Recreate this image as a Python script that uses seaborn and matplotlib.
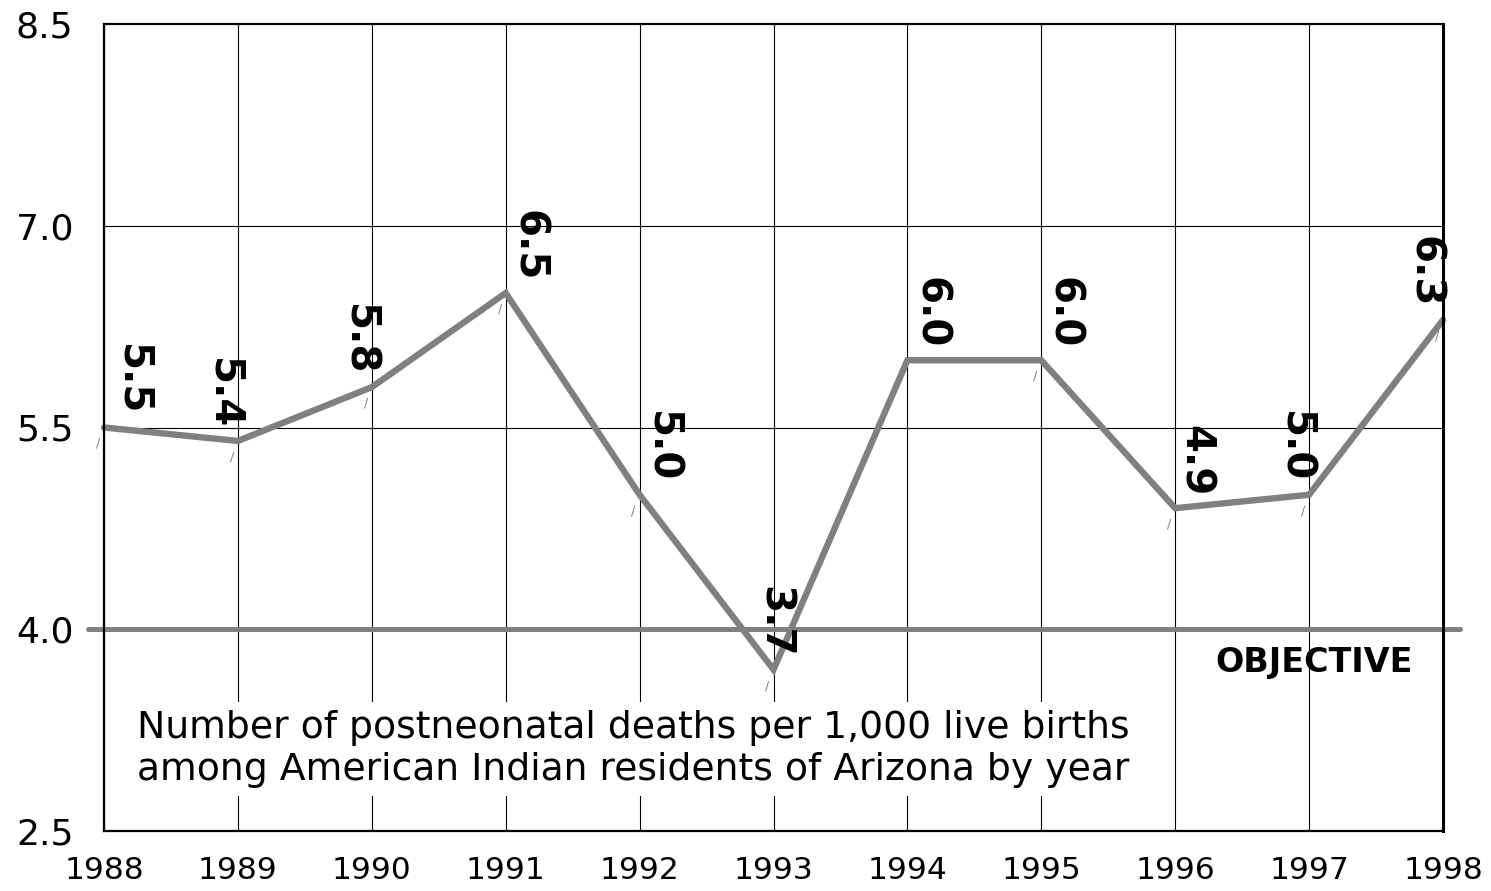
import matplotlib
matplotlib.use("Agg")
import pandas as pd
import seaborn as sns
from matplotlib import pyplot as plt

# Chart data
years = [1988, 1989, 1990, 1991, 1992, 1993, 1994, 1995, 1996, 1997, 1998]
rates = [5.5, 5.4, 5.8, 6.5, 5.0, 3.7, 6.0, 6.0, 4.9, 5.0, 6.3]
rate_labels = ["5.5", "5.4", "5.8", "6.5", "5.0", "3.7", "6.0", "6.0", "4.9", "5.0", "6.3"]
objective = 4.0
y_ticks = [2.5, 4.0, 5.5, 7.0, 8.5]
y_tick_labels = ["2.5", "4.0", "5.5", "7.0", "8.5"]
caption = ("Number of postneonatal deaths per 1,000 live births\n"
           "among American Indian residents of Arizona by year")

# horizontal offset (pixels) of each value label from its point
label_dx = [28, -14, -13, 22, 22, 0, 23, 22, 20, -15, -19]

df = pd.DataFrame({"Year": years, "Rate": rates})

sns.set_theme(style="white")
plt.rcParams["font.family"] = ["DejaVu Sans"]

fig = plt.figure(figsize=(14.91, 8.91), dpi=100)
ax = fig.add_axes([104 / 1491, 1 - 831 / 891, (1443 - 104) / 1491, (831 - 24) / 891])

# grid
for yr in years:
    ax.axvline(yr, color="black", lw=0.8, zorder=1)
for yv in [5.5, 7.0]:
    ax.axhline(yv, color="black", lw=0.8, zorder=1)

# objective line, running a bit past the frame
ax.plot([years[0] - 0.12, years[-1] + 0.13], [objective, objective],
        color="#808080", lw=3.6, solid_capstyle="round", zorder=3, clip_on=False)
ax.text(1997.04, 3.75, "OBJECTIVE", ha="center", va="center",
        fontsize=24, fontweight="bold", color="black", zorder=4)

# main series
sns.lineplot(x="Year", y="Rate", data=df, ax=ax, color="#808080", lw=4.6,
             sort=False, zorder=4)
for ln in ax.lines[-1:]:
    ln.set_solid_capstyle("round")
    ln.set_solid_joinstyle("miter")
    ln.set_clip_on(False)

for yr, rv, lab, dx in zip(years, rates, rate_labels, label_dx):
    ax.annotate(lab, (yr, rv), xytext=(dx, 12), textcoords="offset pixels",
                ha="center", va="bottom", rotation=270,
                fontsize=29, fontweight="bold", color="black", zorder=6,
                annotation_clip=False)
    ax.annotate("/", (yr, rv), xytext=(-6, -16), textcoords="offset pixels",
                ha="center", va="center", fontsize=9, color="#808080",
                zorder=5, annotation_clip=False)

ax.text(1988.25, 3.40, caption, ha="left", va="top", fontsize=27.2,
        linespacing=1.2, color="black", zorder=2,
        bbox=dict(facecolor="white", edgecolor="none", pad=6))

ax.set_xlim(years[0], years[-1])
ax.set_ylim(2.5, 8.5)
ax.set_xticks(years)
ax.set_xticklabels([str(y) for y in years], fontsize=22.5, color="black")
ax.set_yticks(y_ticks)
ax.set_yticklabels(y_tick_labels, fontsize=26, color="black")
ax.tick_params(axis="x", length=0, pad=18)
ax.tick_params(axis="y", length=0, pad=22)
ax.set_xlabel("")
ax.set_ylabel("")

for side in ["left", "bottom", "top"]:
    ax.spines[side].set_color("black")
    ax.spines[side].set_linewidth(1.6)
ax.spines["right"].set_color("black")
ax.spines["right"].set_linewidth(2.2)
for sp in ax.spines.values():
    sp.set_visible(True)
    sp.set_zorder(5)

fig.savefig("out.png", dpi=100)
